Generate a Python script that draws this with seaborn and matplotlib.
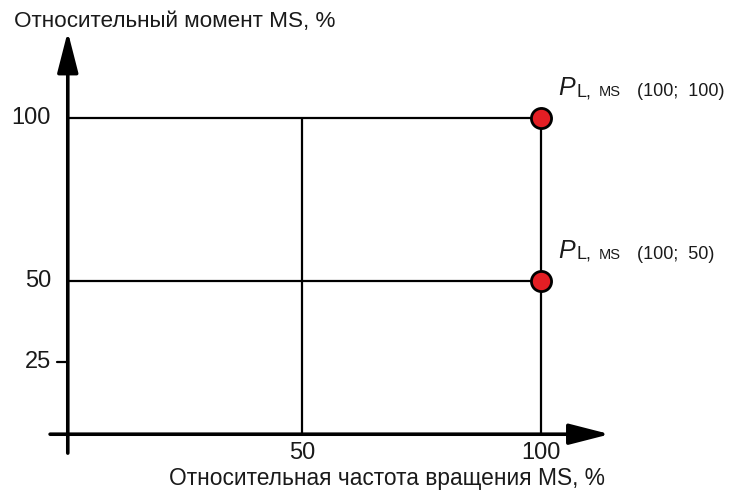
import matplotlib
matplotlib.use("Agg")
import matplotlib.pyplot as plt
import seaborn as sns
import pandas as pd

# ---- data ----
speed_ticks = [50, 100]            # x tick values (%)
speed_tick_labels = ["50", "100"]
torque_ticks = [25, 50, 100]       # y tick values (%)
torque_tick_labels = ["25", "50", "100"]
grid_torque = [50, 100]            # horizontal reference lines
grid_speed = [50, 100]             # vertical reference lines
point_speed = [100, 100]
point_torque = [100, 50]
point_coords = ["(100;  100)", "(100;  50)"]
title_y = "Относительный момент MS, %"
title_x = "Относительная частота вращения MS, %"

# ---- style ----
sns.set_theme(style="white")
plt.rcParams["font.family"] = ["Liberation Sans", "DejaVu Sans"]

fig = plt.figure(figsize=(7.3, 4.91), dpi=100)
ax = fig.add_axes([0, 0, 1, 1])
ax.set_xlim(-13.18, 139.54)
ax.set_ylim(-14.42, 136.2)
ax.axis("off")

AX_X, AX_Y = 1.0, 3.0   # where the drawn axes cross

# reference lines
ax.hlines(grid_torque, AX_X, max(grid_speed), color="black", lw=1.6, zorder=2)
ax.vlines(grid_speed, AX_Y, max(grid_torque), color="black", lw=1.6, zorder=2)

# axes with arrows
arrow_kw = dict(arrowstyle="-|>,head_length=1.25,head_width=0.32", lw=2.6,
                color="black", shrinkA=0, shrinkB=0, mutation_scale=20)
ax.annotate("", xy=(AX_X, 126.5), xytext=(AX_X, -2.8), arrowprops=arrow_kw, zorder=3)
ax.annotate("", xy=(114.4, AX_Y), xytext=(-2.7, AX_Y), arrowprops=arrow_kw, zorder=3)

# y tick labels
for v, lab in zip(torque_ticks, torque_tick_labels):
    ax.text(-2.5, v, lab, ha="right", va="center", fontsize=17, color="#1a1a1a")
# only the 25 tick has a visible dash
ax.plot([-1.3, AX_X], [torque_ticks[0], torque_ticks[0]], color="black", lw=1.6)

# x tick labels
for v, lab in zip(speed_ticks, speed_tick_labels):
    ax.text(v, -2.8, lab, ha="center", va="center", fontsize=17, color="#1a1a1a")

# points
df = pd.DataFrame({"speed": point_speed, "torque": point_torque})
sns.scatterplot(data=df, x="speed", y="torque", ax=ax, s=210, color="#e31e24",
                edgecolor="black", linewidth=2.0, zorder=5, legend=False)

# point labels
for xs, ys, coords in zip(point_speed, point_torque, point_coords):
    base = dict(xy=(xs, ys), textcoords="offset pixels", va="baseline", ha="left",
                color="#1a1a1a")
    ax.annotate("P", xytext=(17, 23), fontsize=18, style="italic", **base)
    ax.annotate("L,", xytext=(36, 22), fontsize=13, **base)
    ax.annotate("MS", xytext=(58, 22), fontsize=10.5, **base)
    ax.annotate(coords, xytext=(96, 22), fontsize=13, **base)

# axis titles
fig.text(14 / 730, 1 - 22 / 491, title_y, ha="left", va="center", fontsize=16.2,
         color="#1a1a1a")
fig.text(605 / 730, 1 - 478 / 491, title_x, ha="right", va="center", fontsize=16.4,
         color="#1a1a1a")

fig.savefig("out.png", dpi=100)
